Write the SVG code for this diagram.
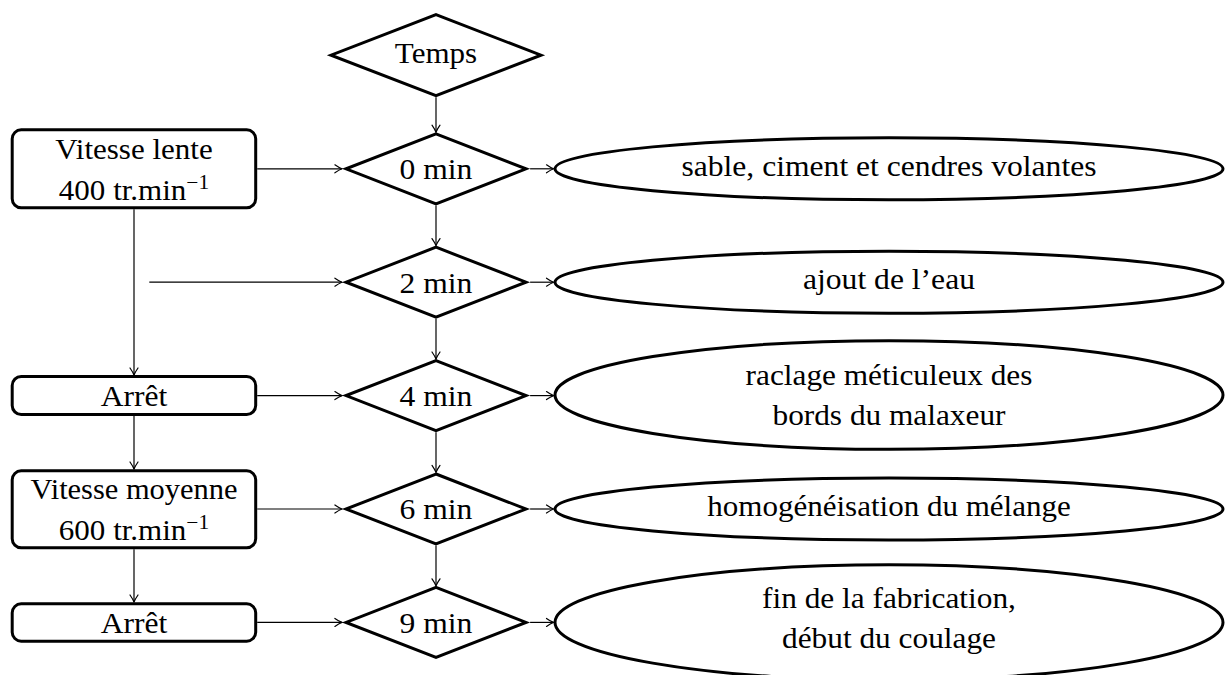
<svg xmlns="http://www.w3.org/2000/svg" width="1228" height="675" viewBox="0 0 1228 675">
<style>
.shape{fill:#fff;stroke:#000;stroke-width:3;stroke-linejoin:miter;stroke-miterlimit:10}
.conn{fill:none;stroke:#000;stroke-width:1.2}
</style>
<defs>
<marker id="arr" markerUnits="userSpaceOnUse" viewBox="-8 -5 9 10" refX="0" refY="0" markerWidth="9" markerHeight="10" orient="auto" overflow="visible">
<path d="M-7,-4 Q-3,-1.2 0,0 Q-3,1.2 -7,4" fill="none" stroke="#000" stroke-width="1.2" stroke-linecap="round"/>
</marker>
</defs>
<rect width="1228" height="675" fill="#fff"/>
<g id="connectors">
<line class="conn" x1="436" y1="97.3" x2="436" y2="132.2" marker-end="url(#arr)"/>
<line class="conn" x1="436" y1="205.4" x2="436" y2="245.6" marker-end="url(#arr)"/>
<line class="conn" x1="436" y1="318.8" x2="436" y2="359" marker-end="url(#arr)"/>
<line class="conn" x1="436" y1="432.2" x2="436" y2="472.4" marker-end="url(#arr)"/>
<line class="conn" x1="436" y1="545.6" x2="436" y2="585.8" marker-end="url(#arr)"/>
<line class="conn" x1="257.2" y1="168.8" x2="341.9" y2="168.8" marker-end="url(#arr)"/>
<line class="conn" x1="149.3" y1="282.2" x2="341.9" y2="282.2" marker-end="url(#arr)"/>
<line class="conn" x1="257.2" y1="395.6" x2="341.9" y2="395.6" marker-end="url(#arr)"/>
<line class="conn" x1="257.2" y1="509" x2="341.9" y2="509" marker-end="url(#arr)"/>
<line class="conn" x1="257.2" y1="622.4" x2="341.9" y2="622.4" marker-end="url(#arr)"/>
<line class="conn" x1="530.1" y1="168.8" x2="553.5" y2="168.8" marker-end="url(#arr)"/>
<line class="conn" x1="530.1" y1="282.2" x2="553.5" y2="282.2" marker-end="url(#arr)"/>
<line class="conn" x1="530.1" y1="395.6" x2="553.5" y2="395.6" marker-end="url(#arr)"/>
<line class="conn" x1="530.1" y1="509" x2="553.5" y2="509" marker-end="url(#arr)"/>
<line class="conn" x1="530.1" y1="622.4" x2="553.5" y2="622.4" marker-end="url(#arr)"/>
<line class="conn" x1="134" y1="209.3" x2="134" y2="375" marker-end="url(#arr)"/>
<line class="conn" x1="134" y1="416" x2="134" y2="469" marker-end="url(#arr)"/>
<line class="conn" x1="134" y1="549.3" x2="134" y2="602" marker-end="url(#arr)"/>
</g>
<g id="temps">
<polygon class="shape" points="436,14.7 541,55.2 436,95.7 331,55.2"/>
<text font-family="Liberation Serif" font-size="29" text-anchor="middle" x="436" y="63" transform="translate(436 0) scale(1.07 1) translate(-436 0)">Temps</text>
</g>
<g id="t0">
<polygon class="shape" points="436,133.8 526,168.8 436,203.8 346,168.8"/>
<text font-family="Liberation Serif" font-size="29" text-anchor="middle" x="436" y="179.3" transform="translate(436 0) scale(1.09 1) translate(-436 0)">0 min</text>
</g>
<g id="t2">
<polygon class="shape" points="436,247.2 526,282.2 436,317.2 346,282.2"/>
<text font-family="Liberation Serif" font-size="29" text-anchor="middle" x="436" y="292.7" transform="translate(436 0) scale(1.09 1) translate(-436 0)">2 min</text>
</g>
<g id="t4">
<polygon class="shape" points="436,360.6 526,395.6 436,430.6 346,395.6"/>
<text font-family="Liberation Serif" font-size="29" text-anchor="middle" x="436" y="406.1" transform="translate(436 0) scale(1.09 1) translate(-436 0)">4 min</text>
</g>
<g id="t6">
<polygon class="shape" points="436,474 526,509 436,544 346,509"/>
<text font-family="Liberation Serif" font-size="29" text-anchor="middle" x="436" y="519.5" transform="translate(436 0) scale(1.09 1) translate(-436 0)">6 min</text>
</g>
<g id="t9">
<polygon class="shape" points="436,587.4 526,622.4 436,657.4 346,622.4"/>
<text font-family="Liberation Serif" font-size="29" text-anchor="middle" x="436" y="632.9" transform="translate(436 0) scale(1.09 1) translate(-436 0)">9 min</text>
</g>
<g id="vitesse-lente">
<rect class="shape" x="12.2" y="129.8" width="243.5" height="78" rx="9"/>
<text font-family="Liberation Serif" font-size="29" text-anchor="middle" x="134" y="159.3" transform="translate(134 0) scale(1.07 1) translate(-134 0)">Vitesse lente</text>
<text font-family="Liberation Serif" font-size="29" text-anchor="middle" x="134" y="200" transform="translate(134 0) scale(1.07 1) translate(-134 0)">400 tr.min<tspan font-size="20" dy="-11">−1</tspan></text>
</g>
<g id="arret1">
<rect class="shape" x="12.2" y="376.5" width="243.5" height="38" rx="9"/>
<text font-family="Liberation Serif" font-size="29" text-anchor="middle" x="134" y="406" transform="translate(134 0) scale(1.09 1) translate(-134 0)">Arrêt</text>
</g>
<g id="vitesse-moyenne">
<rect class="shape" x="12.2" y="470.8" width="243.5" height="77" rx="9"/>
<text font-family="Liberation Serif" font-size="29" text-anchor="middle" x="134" y="499.3" transform="translate(134 0) scale(1.05 1) translate(-134 0)">Vitesse moyenne</text>
<text font-family="Liberation Serif" font-size="29" text-anchor="middle" x="134" y="540" transform="translate(134 0) scale(1.07 1) translate(-134 0)">600 tr.min<tspan font-size="20" dy="-11">−1</tspan></text>
</g>
<g id="arret2">
<rect class="shape" x="12.2" y="603.8" width="243.5" height="37.4" rx="9"/>
<text font-family="Liberation Serif" font-size="29" text-anchor="middle" x="134" y="632.7" transform="translate(134 0) scale(1.09 1) translate(-134 0)">Arrêt</text>
</g>
<g id="e0">
<ellipse class="shape" cx="889" cy="168.8" rx="334" ry="31"/>
<text font-family="Liberation Serif" font-size="29" text-anchor="middle" x="889" y="176" transform="translate(889 0) scale(1.09 1) translate(-889 0)">sable, ciment et cendres volantes</text>
</g>
<g id="e2">
<ellipse class="shape" cx="889" cy="282.2" rx="334" ry="31"/>
<text font-family="Liberation Serif" font-size="29" text-anchor="middle" x="889" y="289.5" transform="translate(889 0) scale(1.09 1) translate(-889 0)">ajout de l’eau</text>
</g>
<g id="e4">
<ellipse class="shape" cx="889" cy="395" rx="334" ry="54.3"/>
<text font-family="Liberation Serif" font-size="29" text-anchor="middle" x="889" y="385" transform="translate(889 0) scale(1.08 1) translate(-889 0)">raclage méticuleux des</text>
<text font-family="Liberation Serif" font-size="29" text-anchor="middle" x="889" y="425" transform="translate(889 0) scale(1.08 1) translate(-889 0)">bords du malaxeur</text>
</g>
<g id="e6">
<ellipse class="shape" cx="889" cy="509" rx="334" ry="31"/>
<text font-family="Liberation Serif" font-size="29" text-anchor="middle" x="889" y="516.3" transform="translate(889 0) scale(1.07 1) translate(-889 0)">homogénéisation du mélange</text>
</g>
<g id="e9">
<ellipse class="shape" cx="889" cy="622.4" rx="334" ry="57.6"/>
<text font-family="Liberation Serif" font-size="29" text-anchor="middle" x="889" y="608.3" transform="translate(889 0) scale(1.08 1) translate(-889 0)">fin de la fabrication,</text>
<text font-family="Liberation Serif" font-size="29" text-anchor="middle" x="889" y="648.3" transform="translate(889 0) scale(1.08 1) translate(-889 0)">début du coulage</text>
</g>
</svg>
